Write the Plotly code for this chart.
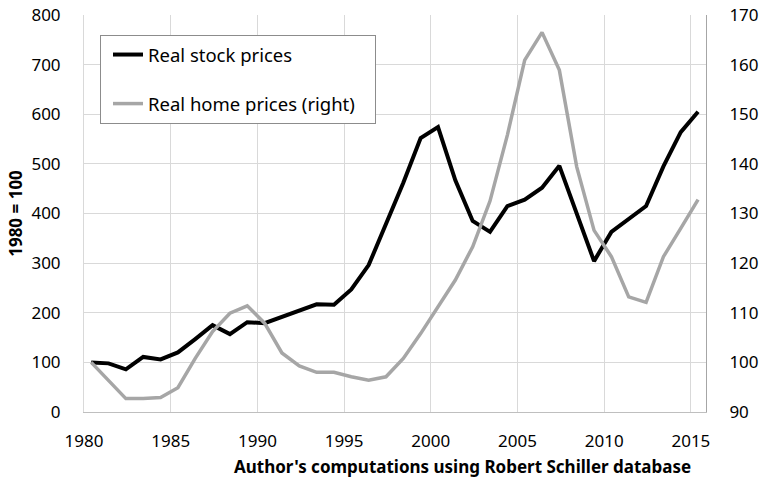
import plotly.graph_objects as go

years = list(range(1980, 2016))
obs_dates = [f"{y}-06-01" for y in years]  # mid-year observations

stock_prices = [100, 98, 86, 111, 106, 120, 147, 175, 157, 181, 179, 191, 205, 217, 216,
                247, 296, 378, 462, 552, 574, 467, 385, 363, 415, 428, 452, 496, 399, 304,
                363, 390, 415, 495, 564, 605]
home_prices = [100, 96.4, 92.7, 92.7, 92.9, 94.9, 100.8, 106.2, 109.9, 111.4, 107.9, 101.9,
               99.3, 98.0, 98.0, 97.1, 96.4, 97.1, 100.8, 105.8, 111.3, 116.6, 123.3, 132.5,
               145.8, 160.9, 166.5, 158.9, 139.4, 126.6, 121.3, 113.2, 112.1, 121.3, 127.0, 132.8]

left_ticks = [0, 100, 200, 300, 400, 500, 600, 700, 800]
right_ticks = [90, 100, 110, 120, 130, 140, 150, 160, 170]

FONT = "Noto Sans"
FS = 17
fig = go.Figure()
fig.add_trace(go.Scatter(x=obs_dates, y=stock_prices, name="Real stock prices",
                         mode="lines", line=dict(color="#000000", width=4),
                         legendgroup="a"))
fig.add_trace(go.Scatter(x=obs_dates, y=home_prices, name="Real home prices (right)\u00a0\u00a0\u00a0",
                         mode="lines", line=dict(color="#a6a6a6", width=3.5),
                         yaxis="y2", legendgroup="b"))

fig.update_layout(
    width=760, height=483,
    margin=dict(l=84, r=54, t=15, b=71),
    paper_bgcolor="white", plot_bgcolor="white",
    font=dict(family=FONT, size=FS, color="#000000"),
    showlegend=True,
    legend=dict(x=0.0257, y=0.9496, xanchor="left", yanchor="top",
                bordercolor="#8c8c8c", borderwidth=1, bgcolor="white",
                font=dict(family=FONT, size=18.5), tracegroupgap=22,
                itemwidth=30, indentation=7),
    xaxis=dict(type="date", range=["1980-01-01", "2015-11-15"],
               tick0="1980-01-01", dtick="M60", tickformat="%Y",
               showgrid=True, gridcolor="#d9d9d9", gridwidth=1,
               showline=True, linecolor="#bfbfbf", linewidth=1,
               ticks="", ticklabelstandoff=14, zeroline=False, automargin=False),
    yaxis=dict(range=[0, 800], tickvals=left_ticks,
               showgrid=True, gridcolor="#d9d9d9", gridwidth=1,
               showline=True, linecolor="#d9d9d9", linewidth=1,
               ticks="", ticklabelstandoff=19, zeroline=False, automargin=False,
               ticklabeloverflow="allow",
               title=dict(text="<b>1980 = 100</b>", standoff=4,
                          font=dict(family=FONT, size=FS))),
    yaxis2=dict(range=[90, 170], tickvals=right_ticks, overlaying="y", side="right",
                showgrid=False, showline=True, linecolor="#a6a6a6", linewidth=1,
                ticks="", ticklabelstandoff=19, zeroline=False, automargin=False,
                ticklabeloverflow="allow"),
    annotations=[dict(text="<b>Author's computations using Robert Schiller database</b>",
                      xref="paper", yref="paper", x=0.979, y=-0.1385,
                      xanchor="right", yanchor="middle", showarrow=False,
                      font=dict(family=FONT, size=FS))],
)

# remove the browser's default 8px body margin so the figure sits at the page origin
fig.write_html("out.html", config={"displayModeBar": False},
               post_script="document.body.style.margin='0px';")
